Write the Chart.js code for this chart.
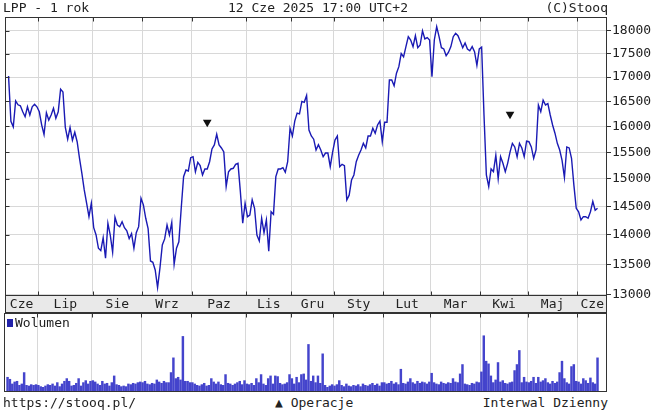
<!DOCTYPE html>
<html>
<head>
<meta charset="utf-8">
<title>LPP - 1 rok</title>
<script src="https://cdn.jsdelivr.net/npm/chart.js@4.4.0/dist/chart.umd.min.js"></script>
<style>
    body { margin: 0; background: #fff; }
    #wrap { position: relative; width: 654px; height: 413px; font-family: "DejaVu Sans Mono", monospace; font-size: 13px; color: #222; }
    .txt { position: absolute; white-space: pre; line-height: 15px; }
    #priceBox { position: absolute; left: 0; top: 0; width: 654px; height: 313px; }
    #volBox { position: absolute; left: 0; top: 313px; width: 654px; height: 80px; }
    #legSq { position: absolute; left: 7px; top: 319px; width: 6px; height: 8px; background: #2222aa; }
</style>
</head>
<body>
<div id="wrap">
    <div id="priceBox"><canvas id="priceChart"></canvas></div>
    <div id="volBox"><canvas id="volChart"></canvas></div>
    <div class="txt" style="left:3px; top:0px;">LPP - 1 rok</div>
    <div class="txt" style="left:228px; top:0px;">12 Cze 2025 17:00 UTC+2</div>
    <div class="txt" style="right:46px; top:0px;">(C)Stooq</div>
    <div id="legSq"></div>
    <div class="txt" style="left:15px; top:315px;">Wolumen</div>
    <div class="txt" style="left:3px; top:395px;">https://stooq.pl/</div>
    <div class="txt" style="left:275px; top:395px;">▲ Operacje</div>
    <div class="txt" style="right:46px; top:395px;">Interwal Dzienny</div>
</div>
<script>
// months shown on the axis and number of sessions in each
const monthLabels = ['Cze', 'Lip', 'Sie', 'Wrz', 'Paz', 'Lis', 'Gru', 'Sty', 'Lut', 'Mar', 'Kwi', 'Maj', 'Cze'];
const monthDays = [13, 23, 21, 21, 23, 19, 18, 21, 20, 21, 20, 21, 9];

// daily closes, 12.06.2024 - 12.06.2025
const closes = [
    17024, 16100, 15990, 16510, 16430, 16410, 16290, 16190, 16390, 16225, 16390, 16440, 16390,
    16290, 16030, 15840, 16270, 16125, 16225, 16360, 16160, 16290, 16750, 16690, 15980, 15750, 15980, 15730, 15885, 15700, 15380, 15100, 14795, 14555, 14316, 14555,
    14123, 13997, 13770, 13730, 13951, 13601, 14200, 13995, 13703, 14305, 14170, 14140, 14228, 14123, 14070, 13936, 14020, 13770, 14036, 14141, 14644,
    14526, 14288, 14106, 13556, 13534, 13407, 13119, 13436, 13826, 13930, 14170, 13997, 14215, 13501, 13770, 13880, 14465, 15039, 15163, 15145, 15394,
    15413, 15131, 15307, 15245, 15070, 15182, 15182, 15318, 15561, 15638, 15844, 15638, 15580, 15503, 14856, 15131, 15182, 15195, 15270, 15288, 14764, 14200, 14555,
    14316, 14345, 14618, 14465, 13997, 13895, 14288, 14036, 14260, 13722, 14403, 14357, 15039, 15182, 15182, 15207, 15120, 15318, 15963,
    15811, 16103, 16263, 16247, 16500, 16480, 16620, 15928, 15811, 15749, 15541, 15641, 15541, 15413, 15483, 15483, 15225, 15500,
    15733, 15811, 15225, 15270, 15245, 14614, 14700, 14976, 15070, 15318, 15442, 15541, 15669, 15580, 15811, 15811, 15963, 15866, 16027, 16103, 15700,
    16080, 16080, 16940, 16940, 16820, 17082, 17220, 17500, 17430, 17650, 17868, 17795, 17650, 17889, 17627, 17685, 17995, 17818, 17847, 17795,
    17008, 17795, 18089, 17868, 17627, 17600, 17455, 17530, 17650, 17868, 17943, 17890, 17760, 17627, 17730, 17600, 17560, 17650, 17540, 17250, 17600,
    17640, 16225, 15070, 14856, 15182, 15131, 15442, 15000, 15413, 15288, 15131, 15288, 15500, 15669, 15600, 15413, 15669, 15580, 15413, 15710,
    15700, 15600, 15383, 15541, 16427, 16292, 16523, 16427, 16455, 16225, 16027, 15866, 15669, 15541, 15343, 15023, 15600, 15580, 15383, 14884, 14465,
    14403, 14260, 14316, 14316, 14288, 14403, 14589, 14430, 14465
];

// daily volume (thousand shares)
const volumes = [
    22, 19, 12, 15, 16, 10, 12, 29, 10, 9, 11, 10, 11,
    10, 8, 7, 9, 11, 10, 12, 9, 14, 8, 12, 16, 20, 16, 9, 10, 13, 20, 9, 14, 17, 12, 16,
    17, 15, 12, 10, 16, 12, 13, 9, 14, 24, 11, 10, 8, 9, 8, 12, 11, 13, 12, 14, 15,
    14, 16, 12, 11, 13, 12, 18, 15, 13, 16, 14, 14, 29, 51, 20, 22, 18, 83, 16, 16, 14,
    14, 12, 10, 9, 11, 13, 9, 10, 20, 15, 12, 15, 11, 10, 26, 13, 12, 10, 12, 14, 16, 11, 17,
    12, 11, 13, 10, 20, 14, 26, 12, 10, 20, 24, 12, 24, 23, 13, 11, 12, 14, 26,
    20, 12, 22, 14, 26, 27, 18, 71, 16, 24, 14, 24, 13, 57, 10, 7, 9, 11,
    9, 11, 17, 10, 8, 12, 9, 8, 10, 9, 11, 8, 12, 10, 9, 11, 13, 10, 12, 9, 14,
    14, 12, 13, 16, 12, 14, 11, 34, 13, 12, 15, 20, 14, 12, 16, 13, 15, 14, 12, 15,
    28, 14, 12, 11, 15, 13, 12, 14, 13, 20, 15, 14, 27, 41, 12, 11, 10, 13, 12, 15, 14,
    30, 84, 46, 42, 24, 14, 18, 44, 15, 17, 13, 12, 14, 15, 32, 41, 62, 14, 22, 15,
    14, 16, 22, 13, 22, 15, 17, 20, 14, 12, 16, 13, 15, 29, 46, 20, 14, 12, 38, 41, 16,
    15, 12, 20, 17, 13, 21, 14, 12, 51
];

// operations markers (session index, level)
const opDays = [84, 212];
const opLevels = [16080, 16240];

// price axis ticks
const priceTicks = [13000, 13500, 14000, 14500, 15000, 15500, 16000, 16500, 17000, 17500, 18000];

const X_MIN = -1.5, X_MAX = 253;
const FONT = { family: 'DejaVu Sans Mono', size: 13 };
const GRID = '#d8d8d8';

// month boundaries and label centres
const boundaries = [];
const mids = [];
let acc = 0;
monthDays.forEach((n, k) => {
    const lo = k === 0 ? X_MIN : acc - 0.5;
    acc += n;
    const hi = k === monthDays.length - 1 ? X_MAX : acc - 0.5;
    if (k < monthDays.length - 1) boundaries.push(acc - 0.5);
    mids.push((lo + hi) / 2);
});

const framePlugin = {
    id: 'frames',
    beforeDraw(chart, args, opts) {
        const a = chart.chartArea;
        if (opts.strip) {
            chart.ctx.save();
            chart.ctx.fillStyle = '#e9e9e9';
            chart.ctx.fillRect(a.left, a.bottom, a.right - a.left, opts.strip);
            chart.ctx.restore();
        }
    },
    afterDraw(chart, args, opts) {
        const ctx = chart.ctx;
        const a = chart.chartArea;
        const sx = chart.scales.x;
        ctx.save();
        ctx.strokeStyle = '#333';
        ctx.lineWidth = 1;
        const L = Math.round(a.left) + 0.5, R = Math.round(a.right) - 0.5;
        const T = Math.round(a.top) + 0.5, B = Math.round(a.bottom) - 0.5;
        ctx.strokeRect(L, T, R - L, B - T);
        if (opts.strip) ctx.strokeRect(L, B, R - L, opts.strip);
        ctx.beginPath();
        sx.ticks.forEach(t => {
            const px = Math.round(sx.getPixelForValue(t.value)) + 0.5;
            ctx.moveTo(px, T); ctx.lineTo(px, T + 4);
            if (opts.strip) { ctx.moveTo(px, B - 4); ctx.lineTo(px, B); }
        });
        if (opts.leftTicks) {
            const sy = chart.scales.y;
            sy.ticks.forEach(t => {
                const py = Math.round(sy.getPixelForValue(t.value)) + 0.5;
                ctx.moveTo(L, py); ctx.lineTo(L + 4, py);
            });
        }
        ctx.stroke();
        ctx.restore();
    }
};

function boundaryAxis() {
    return {
        type: 'linear', min: X_MIN, max: X_MAX, position: 'bottom', bounds: 'data', offset: false,
        afterBuildTicks: s => { s.ticks = boundaries.map(v => ({ value: v })); },
        afterFit: s => { s.height = 0; },
        ticks: { display: false },
        grid: { color: GRID, drawTicks: false, offset: false },
        border: { display: false }
    };
}

new Chart(document.getElementById('priceChart'), {
    type: 'line',
    data: {
        datasets: [
            {
                label: 'LPP',
                data: closes.map((v, i) => ({ x: i, y: v })),
                borderColor: '#1a1ab4',
                borderWidth: 1.4,
                pointRadius: 0,
                tension: 0
            },
            {
                label: 'Operacje',
                data: opDays.map((d, k) => ({ x: d, y: opLevels[k] })),
                showLine: false,
                pointStyle: 'triangle',
                rotation: 180,
                pointRadius: 5,
                backgroundColor: '#111',
                borderColor: '#111',
                borderWidth: 0
            }
        ]
    },
    options: {
        responsive: true,
        maintainAspectRatio: false,
        animation: false,
        layout: { padding: { top: 17, left: 4, right: 0, bottom: 0 } },
        plugins: {
            legend: { display: false },
            tooltip: { enabled: false },
            frames: { strip: 17, leftTicks: true }
        },
        scales: {
            x: boundaryAxis(),
            xm: {
                type: 'linear', min: X_MIN, max: X_MAX, position: 'bottom', bounds: 'data',
                afterBuildTicks: s => { s.ticks = mids.map(v => ({ value: v })); },
                afterFit: s => { s.height = 17; },
                ticks: {
                    callback: (v, i) => monthLabels[i],
                    font: FONT, color: '#222', padding: 1, maxRotation: 0, autoSkip: false
                },
                grid: { display: false, drawTicks: false },
                border: { display: false }
            },
            y: {
                type: 'logarithmic', position: 'right', min: 12984, max: 18306, bounds: 'data',
                afterBuildTicks: s => { s.ticks = priceTicks.map(v => ({ value: v })); },
                afterFit: s => { s.width = 47; },
                ticks: { callback: v => String(v), font: FONT, color: '#222', padding: 1 },
                grid: { color: GRID, tickLength: 4, tickColor: '#333' },
                border: { display: false }
            }
        }
    },
    plugins: [framePlugin]
});

new Chart(document.getElementById('volChart'), {
    type: 'bar',
    data: {
        datasets: [{
            label: 'Wolumen',
            data: volumes.map((v, i) => ({ x: i, y: v })),
            backgroundColor: '#4444cc',
            barThickness: 1.8
        }]
    },
    options: {
        responsive: true,
        maintainAspectRatio: false,
        animation: false,
        layout: { padding: { top: 0, left: 4, right: 47, bottom: 1 } },
        plugins: {
            legend: { display: false },
            tooltip: { enabled: false },
            frames: {}
        },
        scales: {
            x: boundaryAxis(),
            y: { min: 0, max: 118, display: false }
        }
    },
    plugins: [framePlugin]
});
</script>
</body>
</html>
